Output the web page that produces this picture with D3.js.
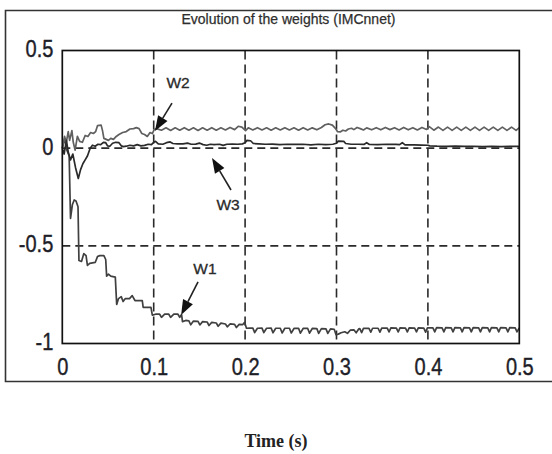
<!DOCTYPE html>
<html><head><meta charset="utf-8">
<script src="https://cdn.jsdelivr.net/npm/d3@7"></script>
<style>html,body{margin:0;padding:0;background:#fff;}svg{display:block;}</style>
</head><body>
<script>
const chartTitle = "Evolution of the weights (IMCnnet)";
const xLabel = "Time (s)";
const xTicks = [0, 0.1, 0.2, 0.3, 0.4, 0.5];
const xTickLabels = ["0", "0.1", "0.2", "0.3", "0.4", "0.5"];
const yTicks = [0.5, 0, -0.5, -1];
const yTickLabels = ["0.5", "0", "-0.5", "-1"];
const xGrid = [0.1, 0.2, 0.3, 0.4];
const yGrid = [0, -0.5];

const w1 = [[0,0],[0.003,0.05],[0.005,-0.01],[0.0075,-0.04],[0.009,-0.36],[0.011,-0.29],[0.013,-0.265],[0.015,-0.27],[0.0172,-0.3],[0.0182,-0.575],
[0.021,-0.58],[0.0235,-0.54],[0.026,-0.55],[0.0275,-0.6],[0.030,-0.59],[0.036,-0.585],[0.0385,-0.555],[0.041,-0.55],[0.0455,-0.55],[0.0475,-0.57],[0.0485,-0.655],[0.0505,-0.645],[0.053,-0.655],[0.058,-0.66],[0.0595,-0.8],[0.0615,-0.77],[0.0645,-0.76],[0.0665,-0.785],[0.069,-0.77],[0.0735,-0.77],[0.0765,-0.755],[0.0795,-0.78],[0.0875,-0.78],[0.0885,-0.815],[0.097,-0.815],[0.0985,-0.855],
[0.102,-0.85],[0.1065,-0.85],[0.1085,-0.866],[0.112,-0.85],[0.1165,-0.85],[0.1185,-0.866],[0.122,-0.85],[0.1265,-0.85],[0.1285,-0.866],[0.1305,-0.852],[0.1315,-0.888],
[0.135,-0.882],[0.1385,-0.884],[0.1405,-0.904],[0.1435,-0.885],[0.1485,-0.887],[0.1505,-0.905],[0.1535,-0.888],[0.1585,-0.89],[0.1605,-0.908],[0.1635,-0.892],[0.1685,-0.895],[0.1705,-0.912],[0.1735,-0.896],[0.1785,-0.9],[0.1805,-0.915],[0.1835,-0.9],[0.1885,-0.902],[0.1905,-0.918],[0.1935,-0.902],[0.1975,-0.903],[0.1995,-0.892],[0.2015,-0.922],
[0.205,-0.921],[0.2085,-0.921],[0.2105,-0.944],[0.2135,-0.922],[0.2185,-0.921],[0.2205,-0.944],[0.2235,-0.922],[0.2285,-0.921],[0.2305,-0.945],[0.2335,-0.922],[0.2385,-0.922],[0.2405,-0.946],[0.2435,-0.922],[0.2485,-0.922],[0.2505,-0.946],[0.2535,-0.923],[0.2585,-0.922],[0.2605,-0.947],[0.2635,-0.923],[0.2685,-0.923],[0.2705,-0.947],[0.2735,-0.923],[0.2785,-0.924],[0.2805,-0.948],[0.2835,-0.924],[0.2885,-0.925],[0.2905,-0.948],[0.2935,-0.925],[0.2975,-0.927],[0.2995,-0.955],[0.302,-0.952],[0.305,-0.945],[0.309,-0.94],[0.312,-0.948],[0.315,-0.932],[0.319,-0.93],[0.3215,-0.945],[0.3245,-0.925],
[0.3255,-0.924],[0.3275,-0.944],[0.3295,-0.923],[0.3355,-0.923],[0.3375,-0.942],[0.3395,-0.922],[0.3455,-0.922],[0.3475,-0.942],[0.3495,-0.921],[0.3555,-0.921],[0.3575,-0.941],[0.3595,-0.92],[0.3655,-0.921],[0.3675,-0.941],[0.3695,-0.92],[0.3755,-0.921],[0.3775,-0.941],[0.3795,-0.92],[0.3855,-0.921],[0.3875,-0.94],[0.3895,-0.92],[0.3955,-0.921],[0.3975,-0.942],[0.3995,-0.92],
[0.4055,-0.92],[0.4075,-0.94],[0.4095,-0.919],[0.4155,-0.92],[0.4175,-0.94],[0.4195,-0.919],[0.4255,-0.92],[0.4275,-0.94],[0.4295,-0.919],[0.4355,-0.92],[0.4375,-0.94],[0.4395,-0.919],[0.4455,-0.92],[0.4475,-0.94],[0.4495,-0.919],[0.4555,-0.92],[0.4575,-0.94],[0.4595,-0.919],[0.4655,-0.92],[0.4675,-0.94],[0.4695,-0.919],[0.4755,-0.92],[0.4775,-0.94],[0.4795,-0.919],[0.4855,-0.92],[0.4875,-0.94],[0.4895,-0.919],[0.4955,-0.92],[0.4975,-0.94],[0.5,-0.92]];

const w2 = [[0,0],[0.0025,0.06],[0.004,0.02],[0.0065,0.085],[0.008,0.04],[0.0105,0.09],[0.012,0.03],[0.014,-0.01],[0.0165,0.06],[0.019,0.035],[0.022,0.03],[0.025,0.065],[0.028,0.06],[0.031,0.08],[0.034,0.075],[0.0365,0.085],[0.0385,0.115],[0.0425,0.118],[0.044,0.09],[0.0455,0.05],[0.048,0.045],[0.0505,0.04],[0.053,0.05],[0.056,0.045],[0.059,0.06],[0.062,0.07],[0.066,0.08],[0.07,0.085],[0.074,0.098],[0.078,0.1],[0.081,0.105],[0.084,0.1],[0.087,0.075],[0.09,0.07],[0.093,0.06],[0.096,0.08],[0.0985,0.075],[0.1005,0.095],[0.103,0.1],
[0.1085,0.092],[0.1135,0.104],[0.1185,0.091],[0.1235,0.104],[0.1285,0.092],[0.1335,0.105],[0.1385,0.092],[0.1435,0.104],[0.1485,0.091],[0.1535,0.104],[0.1585,0.092],[0.1635,0.105],[0.1685,0.092],[0.1735,0.104],[0.1785,0.093],[0.1835,0.106],[0.1885,0.095],[0.1925,0.112],[0.1965,0.108],[0.2005,0.09],[0.2035,0.104],[0.2085,0.093],[0.2135,0.105],[0.2185,0.093],[0.2235,0.104],[0.2285,0.092],[0.2335,0.104],[0.2385,0.093],[0.2435,0.105],[0.2485,0.093],[0.2535,0.104],[0.2585,0.092],[0.2635,0.105],[0.2685,0.093],[0.2735,0.104],[0.2785,0.094],[0.2835,0.106],[0.2875,0.12],[0.2915,0.124],[0.2955,0.118],[0.299,0.1],[0.301,0.085],[0.304,0.083],[0.307,0.092],[0.31,0.088],[0.313,0.098],[0.3165,0.102],[0.319,0.095],[0.3225,0.106],[0.326,0.1],[0.3295,0.093],[0.333,0.104],[0.3385,0.094],[0.3435,0.105],[0.3485,0.094],[0.3535,0.106],[0.3585,0.095],[0.3635,0.105],[0.3685,0.093],[0.3735,0.106],[0.3785,0.094],[0.3835,0.105],[0.3885,0.093],[0.3935,0.106],[0.3985,0.096],[0.4015,0.11],[0.4065,0.092],[0.4115,0.108],[0.4165,0.091],[0.4215,0.108],[0.4265,0.091],[0.4315,0.108],[0.4365,0.091],[0.4415,0.108],[0.4465,0.091],[0.4515,0.108],[0.4565,0.091],[0.4615,0.108],[0.4665,0.091],[0.4715,0.108],[0.4765,0.091],[0.4815,0.108],[0.4865,0.091],[0.4915,0.108],[0.4965,0.091],[0.5,0.105]];

const w3 = [[0,0],[0.002,-0.03],[0.0045,0.04],[0.0065,-0.02],[0.009,-0.06],[0.0115,-0.03],[0.0145,-0.1],[0.0175,-0.155],[0.02,-0.11],[0.0225,-0.08],[0.025,-0.06],[0.0275,-0.04],[0.0305,0.0],[0.033,0.015],[0.036,0.01],[0.039,0.02],[0.042,0.018],[0.045,0.03],[0.0475,0.028],[0.0495,0.012],[0.052,0.01],[0.055,0.025],[0.0585,0.03],[0.062,0.028],[0.0645,0.012],[0.067,0.008],[0.07,0.01],[0.074,0.015],[0.078,0.012],[0.082,0.018],[0.086,0.012],[0.09,0.014],[0.094,0.02],[0.0975,0.018],[0.1,0.03],[0.102,0.035],[0.105,0.022],[0.11,0.02],[0.114,0.028],[0.118,0.032],[0.121,0.024],[0.126,0.022],[0.132,0.022],[0.137,0.026],[0.141,0.02],[0.146,0.021],[0.15,0.026],[0.154,0.018],[0.158,0.015],[0.162,0.02],[0.166,0.018],[0.172,0.02],[0.176,0.014],[0.18,0.02],[0.186,0.021],[0.192,0.02],[0.197,0.022],[0.2,0.028],[0.202,0.04],[0.206,0.038],[0.209,0.024],[0.215,0.022],[0.222,0.02],[0.23,0.021],[0.238,0.018],[0.246,0.02],[0.255,0.019],[0.263,0.02],[0.272,0.017],[0.28,0.02],[0.288,0.018],[0.296,0.02],[0.3,0.025],[0.302,0.036],[0.308,0.035],[0.31,0.024],[0.316,0.02],[0.324,0.02],[0.33,0.019],[0.333,0.028],[0.336,0.019],[0.345,0.018],[0.355,0.02],[0.365,0.019],[0.369,0.018],[0.372,0.028],[0.375,0.017],[0.385,0.017],[0.393,0.016],[0.4,0.015],[0.402,0.012],[0.41,0.01],[0.42,0.009],[0.43,0.01],[0.44,0.009],[0.45,0.009],[0.46,0.008],[0.47,0.009],[0.48,0.008],[0.49,0.009],[0.5,0.009]];

const seriesNames = ["W1", "W2", "W3"];
// annotation anchors in data units: [tipT, tipV, tailT, tailV, labelT, labelV]
const annW1 = [0.130, -0.854, 0.1485, -0.685, 0.156, -0.614];
const annW2 = [0.1014, 0.088, 0.120, 0.231, 0.1266, 0.334];
const annW3 = [0.1638, -0.05, 0.1846, -0.214, 0.1813, -0.286];

const W = 552, H = 454;
const svg = d3.select("body").append("svg").attr("width", W).attr("height", H);
const x = d3.scaleLinear().domain([0, 0.5]).range([62.3, 519.3]);
const y = d3.scaleLinear().domain([-1, 0.5]).range([343.5, 50.5]);

// outer frame
svg.append("path").attr("d", `M552,10.5H5.5V381.5H552`).attr("fill", "none").attr("stroke", "#333").attr("stroke-width", 1.6);

// title
svg.append("text").attr("x", 288.5).attr("y", 24).attr("text-anchor", "middle")
  .attr("font-family", "Liberation Sans, Arial, sans-serif").attr("font-size", 14.5)
  .attr("fill", "#2e2e2e").attr("stroke", "#2e2e2e").attr("stroke-width", 0.25)
  .attr("textLength", 214).attr("lengthAdjust", "spacingAndGlyphs").text(chartTitle);

// gridlines
const g = svg.append("g");
g.selectAll("line.vg").data(xGrid).join("line").attr("class", "vg")
  .attr("x1", d => x(d)).attr("x2", d => x(d)).attr("y1", y(0.5)).attr("y2", y(-1))
  .attr("stroke", "#2a2a2a").attr("stroke-width", 1.6).attr("stroke-dasharray", "9,5");
g.selectAll("line.hg").data(yGrid).join("line").attr("class", "hg")
  .attr("x1", x(0)).attr("x2", x(0.5)).attr("y1", d => y(d)).attr("y2", d => y(d))
  .attr("stroke", "#2a2a2a").attr("stroke-width", 1.6).attr("stroke-dasharray", "8,5");

// series
const line = d3.line().x(d => x(d[0])).y(d => y(d[1]));
const seriesData = [w1, w2, w3];
const seriesColors = ["#404040", "#606060", "#2a2a2a"];
svg.selectAll("path.series").data(seriesData).join("path").attr("class", "series")
  .attr("d", line).attr("fill", "none")
  .attr("stroke", (d, i) => seriesColors[i]).attr("stroke-width", 1.7).attr("stroke-linejoin", "round");

// plot box
svg.append("rect").attr("x", x(0)).attr("y", y(0.5)).attr("width", x(0.5) - x(0)).attr("height", y(-1) - y(0.5))
  .attr("fill", "none").attr("stroke", "#111").attr("stroke-width", 1.7);

// axes
const sx = 0.87;
const xAxis = d3.axisBottom(x).tickValues(xTicks).tickSize(0).tickFormat((d, i) => xTickLabels[i]);
const gx = svg.append("g").attr("transform", `translate(0,${y(-1)})`).call(xAxis);
gx.select(".domain").remove();
gx.selectAll("text").attr("y", 32).attr("dy", null).attr("fill", "#1e1e28")
  .attr("stroke", "#1e1e28").attr("stroke-width", 0.4)
  .attr("font-family", "Liberation Sans, Arial, sans-serif").attr("font-size", 23)
  .attr("transform", `scale(${sx},1)`);

const yAxis = d3.axisLeft(y).tickValues(yTicks).tickSize(0).tickFormat((d, i) => yTickLabels[i]);
const gy = svg.append("g").attr("transform", `translate(${x(0)},0)`).call(yAxis);
gy.select(".domain").remove();
gy.selectAll("text").attr("x", -9 / sx).attr("y", 6).attr("dy", null).attr("fill", "#1e1e28")
  .attr("stroke", "#1e1e28").attr("stroke-width", 0.4)
  .attr("font-family", "Liberation Sans, Arial, sans-serif").attr("font-size", 23)
  .attr("transform", `scale(${sx},1)`);

// annotations
const anns = [annW1, annW2, annW3];
anns.forEach((a, i) => {
  const tx = x(a[0]), ty = y(a[1]), bx = x(a[2]), by = y(a[3]);
  const dx = tx - bx, dy = ty - by, len = Math.hypot(dx, dy);
  const ux = dx / len, uy = dy / len;
  const hl = 15, hw = 5.5;
  const hx = tx - ux * hl, hy = ty - uy * hl;
  svg.append("line").attr("x1", bx).attr("y1", by).attr("x2", hx).attr("y2", hy)
    .attr("stroke", "#222").attr("stroke-width", 1.6);
  svg.append("path").attr("d", `M${tx},${ty}L${hx - uy * hw},${hy + ux * hw}L${hx + uy * hw},${hy - ux * hw}Z`)
    .attr("fill", "#111");
  svg.append("text").attr("x", x(a[4])).attr("y", y(a[5]) + 5.5).attr("text-anchor", "middle")
    .attr("font-family", "Liberation Sans, Arial, sans-serif").attr("font-size", 15.5)
    .attr("fill", "#2a2a2a").attr("stroke", "#2a2a2a").attr("stroke-width", 0.3).text(seriesNames[i]);
});

// x label
svg.append("text").attr("x", 276).attr("y", 447).attr("text-anchor", "middle")
  .attr("font-family", "Liberation Serif, Times New Roman, serif").attr("font-weight", "bold")
  .attr("font-size", 18).attr("fill", "#222").text(xLabel);
</script>
</body></html>
